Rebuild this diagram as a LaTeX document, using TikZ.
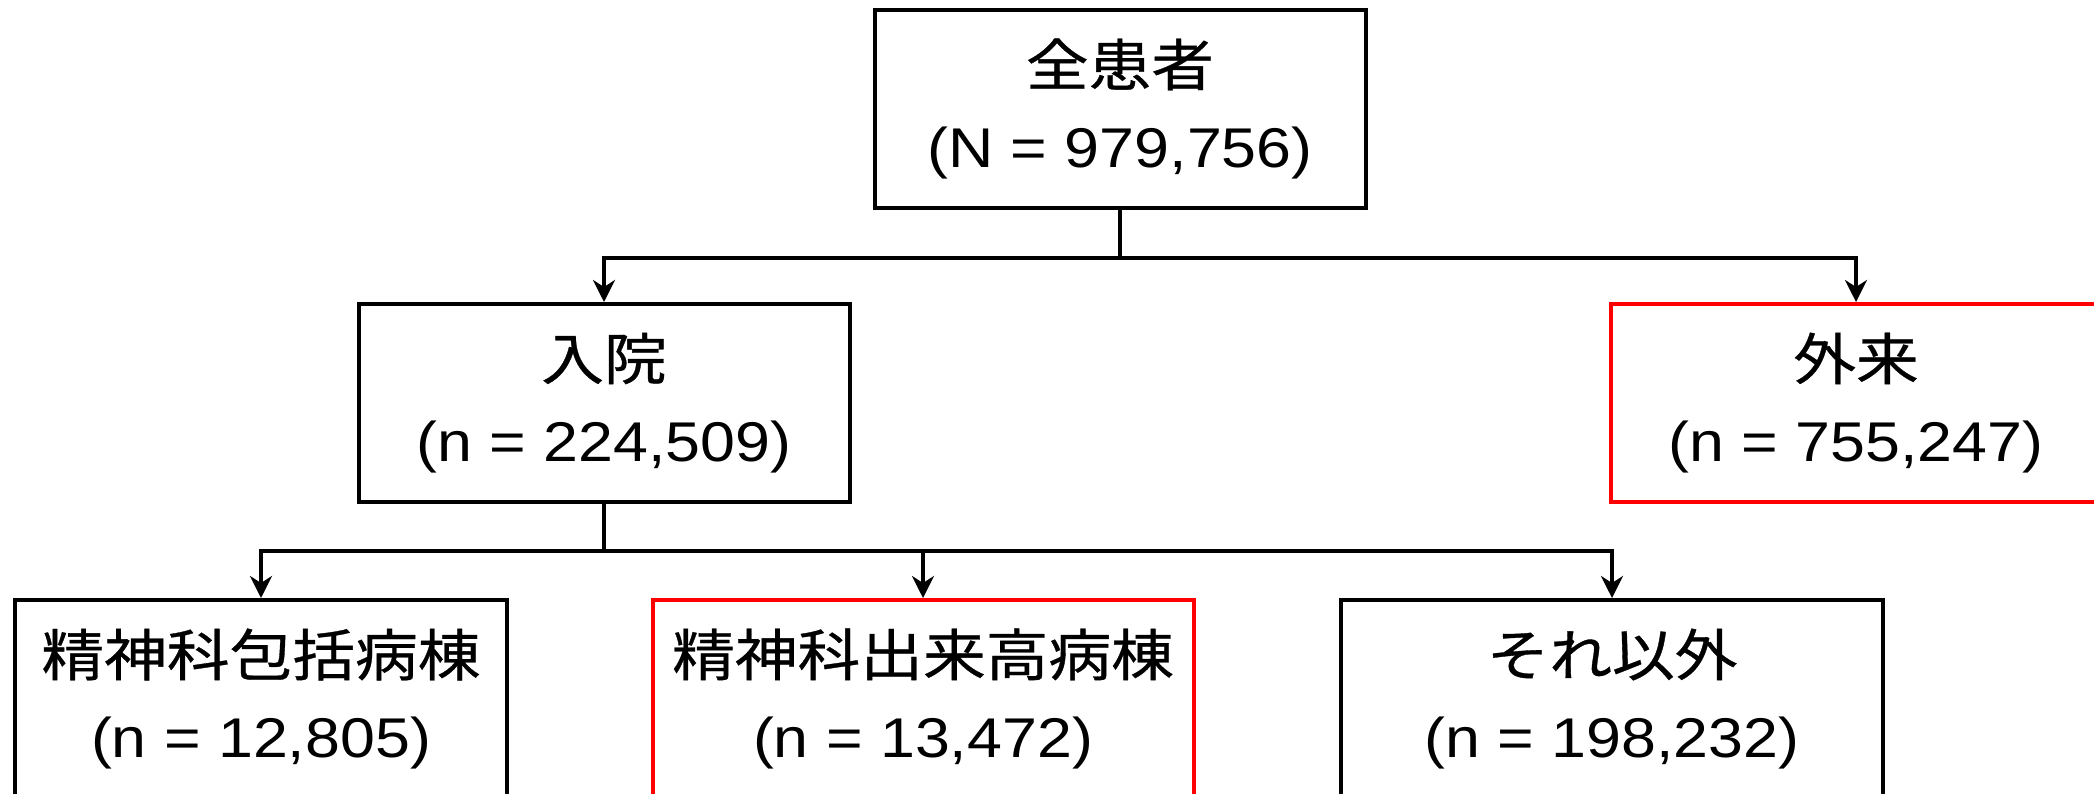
\documentclass[tikz,border=0pt]{standalone}
\usepackage{fontspec}
\setmainfont{Liberation Sans}[FakeStretch=1.12]
\newfontfamily\jp{Noto Sans CJK JP}[FakeStretch=1.12,FakeBold=0.6]
\usetikzlibrary{arrows.meta}
\begin{document}
\begin{tikzpicture}[x=0.5pt,y=-0.5pt,
  box/.style={draw=black, line width=2pt, minimum height=99pt, inner sep=0pt,
    align=center, font=\fontsize{28}{41}\selectfont, fill=white},
  redbox/.style={box, draw=red},
  conn/.style={line width=1.75pt},
  arr/.style={conn, -{Stealth[length=11pt,width=11pt,inset=3.5pt]}}]
\useasboundingbox (0,0) rectangle (2094,793);
\node[box, minimum width=245.5pt] (all) at (1120,109) {{\jp 全患者}\\(N = 979,756)};
\node[box, minimum width=245.5pt] (nyuin) at (604,403) {{\jp 入院}\\(n = 224,509)};
\node[redbox, minimum width=245.5pt] (gairai) at (1856,403) {{\jp 外来}\\(n = 755,247)};
\node[box, minimum width=246pt] (hokatsu) at (261,699) {{\jp 精神科包括病棟}\\(n = 12,805)};
\node[redbox, minimum width=270.5pt] (dekidaka) at (923,699) {{\jp 精神科出来高病棟}\\(n = 13,472)};
\node[box, minimum width=271pt] (other) at (1612,699) {{\jp それ以外}\\(n = 198,232)};
\draw[conn] (all.south) -- ++(0,48) coordinate (j1);
\draw[arr] (j1) -| (nyuin.north);
\draw[arr] (j1) -| (gairai.north);
\draw[conn] (nyuin.south) -- ++(0,47) coordinate (j2);
\draw[arr] (j2) -| (hokatsu.north);
\draw[arr] (j2) -| (dekidaka.north);
\draw[arr] (j2) -| (other.north);
\end{tikzpicture}
\end{document}
